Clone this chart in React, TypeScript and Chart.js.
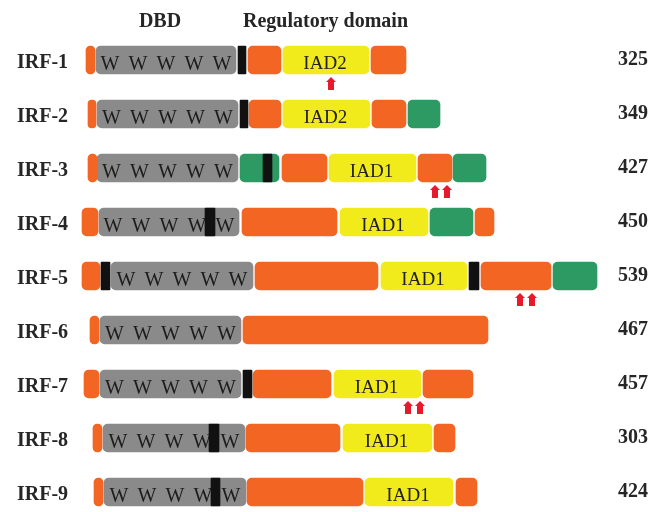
import React, { useEffect, useRef } from 'react';
import { Chart, registerables } from 'chart.js';

Chart.register(...registerables);

// ---- data ----
const rows = ['IRF-1', 'IRF-2', 'IRF-3', 'IRF-4', 'IRF-5', 'IRF-6', 'IRF-7', 'IRF-8', 'IRF-9'];
const lengths = [325, 349, 427, 450, 539, 467, 457, 303, 424];

type Seg = [string, number, number];

const orangeSegments: Seg[] = [
  ['IRF-1', 86, 95], ['IRF-1', 248, 281], ['IRF-1', 371, 406],
  ['IRF-2', 88, 96], ['IRF-2', 249, 281], ['IRF-2', 372, 406],
  ['IRF-3', 88, 97], ['IRF-3', 282, 327], ['IRF-3', 418, 452],
  ['IRF-4', 82, 98], ['IRF-4', 242, 337], ['IRF-4', 475, 494],
  ['IRF-5', 82, 100], ['IRF-5', 255, 378], ['IRF-5', 481, 551],
  ['IRF-6', 90, 99], ['IRF-6', 243, 488],
  ['IRF-7', 84, 99], ['IRF-7', 253, 331], ['IRF-7', 423, 473],
  ['IRF-8', 93, 102], ['IRF-8', 246, 340], ['IRF-8', 434, 455],
  ['IRF-9', 94, 103], ['IRF-9', 247, 363], ['IRF-9', 456, 477],
];

const dbdSegments: Seg[] = [
  ['IRF-1', 96, 236], ['IRF-2', 97, 238], ['IRF-3', 97, 238],
  ['IRF-4', 99, 239], ['IRF-5', 111, 253], ['IRF-6', 100, 241],
  ['IRF-7', 100, 241], ['IRF-8', 103, 245], ['IRF-9', 104, 246],
];

const iadSegments: Seg[] = [
  ['IRF-1', 283, 369], ['IRF-2', 283, 370], ['IRF-3', 329, 416],
  ['IRF-4', 340, 428], ['IRF-5', 381, 467], ['IRF-7', 334, 421],
  ['IRF-8', 343, 432], ['IRF-9', 365, 453],
];
const iadLabels = ['IAD2', 'IAD2', 'IAD1', 'IAD1', 'IAD1', 'IAD1', 'IAD1', 'IAD1'];

const greenSegments: Seg[] = [
  ['IRF-2', 408, 440],
  ['IRF-3', 240, 279], ['IRF-3', 453, 486],
  ['IRF-4', 430, 473],
  ['IRF-5', 553, 597],
];

const blackSegments: Seg[] = [
  ['IRF-1', 238, 246], ['IRF-2', 240, 248], ['IRF-3', 263, 272],
  ['IRF-4', 205, 215], ['IRF-5', 101, 110], ['IRF-5', 469, 479],
  ['IRF-7', 243, 252], ['IRF-8', 209, 219], ['IRF-9', 211, 220],
];

const dbdMotif = 'W';
const dbdMotifCount = 5;

const headerTexts = ['DBD', 'Regulatory domain'];
const headerX = [160, 243];
const headerAlign: CanvasTextAlign[] = ['center', 'left'];

const arrowRows = ['IRF-1', 'IRF-3', 'IRF-5', 'IRF-7'];
const arrowX = [331, 441, 526, 414];
const arrowCounts = [1, 2, 2, 2];

// ---- styles ----
const ORANGE = '#F26522';
const GRAY = '#8A8A8A';
const YELLOW = '#F2EB1B';
const GREEN = '#2E9A63';
const BLACK = '#111111';
const RED = '#E8192C';
const TEXT = '#262626';
const SERIF = "'Liberation Serif', 'Times New Roman', serif";

const toData = (segs: Seg[]) => segs.map(([r, a, b]) => ({ y: r, x: [a, b] }));

const overlayPlugin = {
  id: 'overlay',
  afterDatasetDraw(chart: any, args: any) {
    const ctx = chart.ctx;
    const label = chart.data.datasets[args.index].label;
    if (label === 'DBD') {
      ctx.save();
      ctx.fillStyle = '#1c1c1c';
      ctx.font = `20px ${SERIF}`;
      ctx.textAlign = 'center';
      ctx.textBaseline = 'alphabetic';
      args.meta.data.forEach((el: any) => {
        const { x, base, y } = el.getProps(['x', 'base', 'y'], true);
        const mid = (x + base) / 2;
        for (let i = 0; i < dbdMotifCount; i++) {
          ctx.fillText(dbdMotif, mid + (i - (dbdMotifCount - 1) / 2) * 28, y + 10);
        }
      });
      ctx.restore();
    }
    if (label === 'IAD') {
      ctx.save();
      ctx.fillStyle = '#222222';
      ctx.font = `19px ${SERIF}`;
      ctx.textAlign = 'center';
      ctx.textBaseline = 'alphabetic';
      args.meta.data.forEach((el: any, i: number) => {
        const { x, base, y } = el.getProps(['x', 'base', 'y'], true);
        ctx.fillText(iadLabels[i], (x + base) / 2 - 1, y + 9);
      });
      ctx.restore();
    }
  },
  afterDraw(chart: any) {
    const ctx = chart.ctx;
    const xs = chart.scales.x;
    const ys = chart.scales.y;
    ctx.save();
    ctx.fillStyle = TEXT;
    ctx.font = `bold 20px ${SERIF}`;
    ctx.textBaseline = 'alphabetic';
    rows.forEach((r, i) => {
      const y = ys.getPixelForValue(i);
      ctx.textAlign = 'left';
      ctx.fillText(r, 17, y + 8);
      ctx.textAlign = 'right';
      ctx.fillText(String(lengths[i]), 648, y + 5);
    });
    headerTexts.forEach((t, i) => {
      ctx.textAlign = headerAlign[i];
      ctx.fillText(t, xs.getPixelForValue(headerX[i]), 27);
    });
    // arrows
    ctx.fillStyle = RED;
    arrowRows.forEach((r, i) => {
      const cy = ys.getPixelForValue(rows.indexOf(r)) + 17;
      const cx = xs.getPixelForValue(arrowX[i]);
      const n = arrowCounts[i];
      for (let k = 0; k < n; k++) {
        const ax = cx + (k - (n - 1) / 2) * 12;
        ctx.beginPath();
        ctx.moveTo(ax, cy);
        ctx.lineTo(ax + 5, cy + 5);
        ctx.lineTo(ax + 3, cy + 5);
        ctx.lineTo(ax + 3, cy + 13);
        ctx.lineTo(ax - 3, cy + 13);
        ctx.lineTo(ax - 3, cy + 5);
        ctx.lineTo(ax - 5, cy + 5);
        ctx.closePath();
        ctx.fill();
      }
    });
    ctx.restore();
  },
};

export default function App() {
  const ref = useRef<HTMLCanvasElement | null>(null);
  useEffect(() => {
    if (!ref.current) return;
    const common = {
      barThickness: 28,
      grouped: false,
      borderSkipped: false,
      clip: false as const,
    };
    const chart = new Chart(ref.current, {
      type: 'bar',
      data: {
        labels: rows,
        datasets: [
          { label: 'motif', data: toData(blackSegments), backgroundColor: BLACK, borderRadius: 1, ...common },
          { label: 'orange', data: toData(orangeSegments), backgroundColor: ORANGE, borderRadius: 5, ...common },
          { label: 'DBD', data: toData(dbdSegments), backgroundColor: GRAY, borderRadius: 5, ...common },
          { label: 'IAD', data: toData(iadSegments), backgroundColor: YELLOW, borderRadius: 5, ...common },
          { label: 'green', data: toData(greenSegments), backgroundColor: GREEN, borderRadius: 5, ...common },
        ] as any,
      },
      options: {
        indexAxis: 'y',
        animation: false,
        responsive: true,
        maintainAspectRatio: false,
        layout: { padding: { top: 60, bottom: 20, left: 0, right: 0 } },
        scales: {
          x: { type: 'linear', min: 0, max: 665, display: false },
          y: { type: 'category', offset: false, display: false },
        },
        plugins: {
          legend: { display: false },
          tooltip: { enabled: false },
          title: { display: false },
        },
      },
      plugins: [overlayPlugin],
    });
    return () => chart.destroy();
  }, []);
  return (
    <div style={{ position: 'absolute', left: 0, top: 0, width: 665, height: 512, background: '#fff' }}>
      <canvas ref={ref} />
    </div>
  );
}
